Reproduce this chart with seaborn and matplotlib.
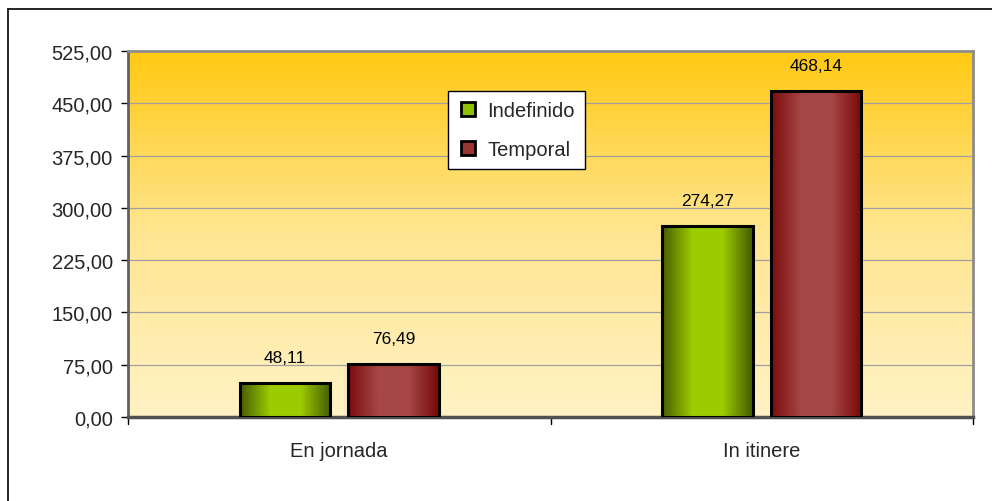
import numpy as np
import pandas as pd
import matplotlib
matplotlib.use("Agg")
import matplotlib.pyplot as plt
import seaborn as sns
from matplotlib.colors import LinearSegmentedColormap
from matplotlib.lines import Line2D
from matplotlib.patches import Rectangle

categories = ["Enjornada", "Initinere"]
series = ["Indefinido", "Temporal"]
indefinido = [48.11, 274.27]
temporal = [76.49, 468.14]
yticks = [0, 75, 150, 225, 300, 375, 450, 525]

df = pd.DataFrame({
    "cat": categories * 2,
    "serie": [series[0]] * 2 + [series[1]] * 2,
    "val": indefinido + temporal,
})

sns.set_theme(style="white")
plt.rcParams["font.family"] = ["Liberation Sans", "DejaVu Sans"]

fig = plt.figure(figsize=(9.92, 5.02), dpi=100)
ax = fig.add_axes([128 / 992, 1 - 418 / 502, 845 / 992, 366 / 502])

base = {"Indefinido": "#8fbf00", "Temporal": "#9b3333"}
sns.barplot(data=df, x="cat", y="val", hue="serie", order=categories,
            hue_order=series, palette=base, width=0.515, gap=0.17,
            edgecolor="black", linewidth=2, ax=ax, legend=False, zorder=3)

ax.set_ylim(0, 525)
ax.set_xlim(-0.5, 1.5)

# background vertical gradient
bg = LinearSegmentedColormap.from_list("bg", ["#fff2c4", "#ffe692", "#ffc912"])
grad = np.linspace(0, 1, 256).reshape(-1, 1)
ax.imshow(grad, cmap=bg, aspect="auto", extent=[-0.5, 1.5, 0, 525],
          origin="lower", zorder=0)

# gradient bars
cmaps = {
    "Indefinido": LinearSegmentedColormap.from_list("g", ["#465c00", "#9ccc00", "#9ccc00", "#455a00"]),
    "Temporal": LinearSegmentedColormap.from_list("r", ["#7a0c0c", "#a64646", "#a64646", "#780808"]),
}
hgrad = np.linspace(0, 1, 256).reshape(1, -1)
patches = list(ax.patches)
for i, p in enumerate(patches):
    name = series[i // len(categories)]
    x0, y0 = p.get_x(), p.get_y()
    w, h = p.get_width(), p.get_height()
    im = ax.imshow(hgrad, cmap=cmaps[name], aspect="auto",
                   extent=[x0, x0 + w, y0, y0 + h], zorder=3.5)
    im.set_clip_path(p)
    ax.add_patch(Rectangle((x0, y0), w, h, fill=False, edgecolor="black",
                           linewidth=2.2, zorder=4))
    val = indefinido[i % 2] if name == "Indefinido" else temporal[i % 2]
    ax.text(x0 + w / 2, y0 + h + 26, f"{val:.2f}".replace(".", ","),
            ha="center", va="bottom", fontsize=12.5, color="black", zorder=5,
            clip_on=False)

ax.set_xlim(-0.5, 1.5)
ax.set_ylim(0, 525)

# gridlines
for t in yticks[1:-1]:
    ax.axhline(t, color="#a0a0a0", linewidth=0.9, zorder=1)

ax.set_yticks(yticks)
ax.set_yticklabels([f"{t:.2f}".replace(".", ",") for t in yticks], fontsize=14.5)
ax.set_xticks([0, 1])
ax.set_xticklabels(["En jornada", "In itinere"], fontsize=14.5)
ax.tick_params(axis="x", length=0, pad=17)
ax.tick_params(axis="y", length=5, width=1, color="black", direction="out", pad=6, left=True)
for xb in [-0.5, 0.5, 1.5]:
    ax.plot([xb, xb], [0, -0.018], transform=ax.get_xaxis_transform(),
            color="black", linewidth=1, clip_on=False)
ax.set_xlabel("")
ax.set_ylabel("")

for s in ["top", "right"]:
    ax.spines[s].set_color("#8c8c8c")
    ax.spines[s].set_linewidth(2)
ax.spines["left"].set_color("#606060")
ax.spines["left"].set_linewidth(2)
ax.spines["bottom"].set_color("#505050")
ax.spines["bottom"].set_linewidth(2.5)

# legend
handles = [Line2D([], [], marker="s", linestyle="", markersize=10,
                  markerfacecolor=c, markeredgecolor="black", markeredgewidth=2)
           for c in ["#8fbf00", "#9b3333"]]
leg = ax.legend(handles, series, loc="upper left", bbox_to_anchor=(0.3787, 0.891),
                frameon=True, fancybox=False, fontsize=14.5, handletextpad=0.45,
                labelspacing=1.0, borderpad=0.5, handlelength=1.0,
                borderaxespad=0)
leg.get_frame().set_edgecolor("black")
leg.get_frame().set_linewidth(1)
leg.get_frame().set_facecolor("white")
leg.get_frame().set_alpha(1)
leg.set_zorder(6)

# outer border (top and left visible)
fig.add_artist(Line2D([8 / 992, 8 / 992], [0, 1 - 10 / 502], color="black", linewidth=1.2))
fig.add_artist(Line2D([8 / 992, 1], [1 - 10 / 502, 1 - 10 / 502], color="black", linewidth=1.2))

fig.savefig("out.png", dpi=100, facecolor="white")
